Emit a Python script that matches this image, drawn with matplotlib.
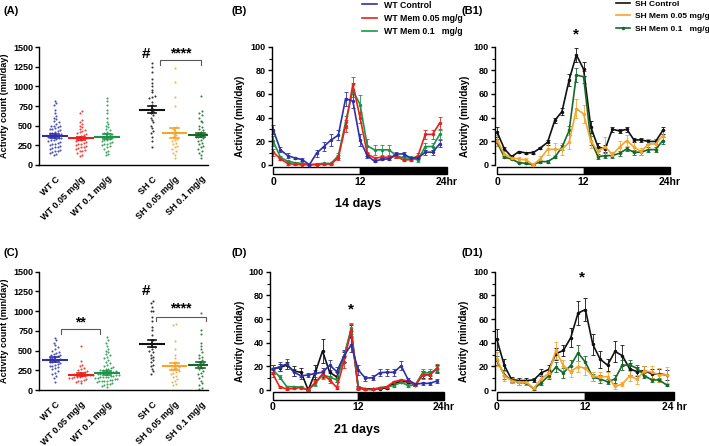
import numpy as np
import matplotlib
matplotlib.use('Agg')
import matplotlib.pyplot as plt
import matplotlib.transforms as mtransforms
from matplotlib.patches import Rectangle
from matplotlib.lines import Line2D

plt.rcParams['font.family'] = ['Liberation Sans', 'DejaVu Sans']
plt.rcParams['font.weight'] = 'bold'
plt.rcParams['axes.labelweight'] = 'bold'

# ---------------- data ----------------
groups = ['WT C', 'WT 0.05 mg/g', 'WT 0.1 mg/g', 'SH C', 'SH 0.05 mg/g', 'SH 0.1 mg/g']

# panel A : 14 days, activity count per animal
a_wt_c = [820, 790, 760, 700, 660, 620, 600, 580, 560, 540, 520, 500, 500, 490, 480, 470, 460, 450, 440,
          430, 420, 410, 400, 390, 380, 380, 370, 360, 350, 345, 340, 330, 320, 310, 300, 290, 280, 270,
          260, 250, 240, 230, 220, 210, 200, 190, 180, 170, 160, 150, 140, 130]
a_wt_005 = [680, 660, 570, 550, 520, 500, 480, 460, 440, 430, 420, 400, 390, 380, 370, 360, 350, 340, 330,
            320, 310, 300, 290, 280, 270, 260, 250, 240, 230, 220, 210, 200, 190, 180, 170, 150, 130, 110]
a_wt_01 = [850, 810, 760, 700, 660, 600, 550, 520, 500, 480, 460, 440, 420, 400, 390, 380, 370, 360, 350,
           340, 330, 320, 310, 300, 290, 280, 270, 260, 250, 240, 220, 200, 180, 160, 140, 120]
a_sh_c = [1300, 1250, 1180, 1100, 1050, 1000, 960, 930, 880, 870, 850, 800, 760, 720, 690, 660, 630, 600,
          570, 540, 500, 470, 430, 400, 350, 300, 230]
a_sh_005 = [1230, 1060, 860, 750, 480, 450, 420, 400, 380, 350, 330, 310, 300, 280, 260, 240, 220, 200,
            180, 150, 120, 90]
a_sh_01 = [880, 690, 660, 640, 600, 560, 540, 500, 480, 460, 440, 420, 400, 390, 380, 370, 360, 350, 340,
           320, 300, 280, 260, 240, 220, 200, 180, 150, 120, 90]
a_mean = [365, 335, 360, 700, 405, 380]
a_sem = [30, 25, 30, 45, 65, 30]

# panel C : 21 days
c_wt_c = [660, 640, 600, 570, 540, 520, 500, 480, 470, 460, 450, 440, 430, 420, 410, 400, 390, 380, 370,
          360, 350, 340, 330, 320, 310, 300, 290, 280, 260, 240, 220, 200, 180, 150, 100]
c_wt_005 = [560, 370, 320, 300, 280, 260, 250, 240, 230, 220, 210, 205, 200, 195, 190, 185, 180, 175, 170,
            165, 160, 155, 150, 140, 130, 120, 110, 100, 90]
c_wt_01 = [670, 640, 600, 560, 520, 500, 480, 460, 440, 420, 400, 380, 360, 340, 320, 300, 290, 280, 270,
           260, 250, 240, 230, 220, 210, 200, 190, 180, 170, 160, 150, 140, 130, 120, 110, 100, 90, 80, 70,
           60, 50, 40, 250, 230, 210, 190, 170, 150, 130, 110, 200, 180, 160, 140, 120]
c_sh_c = [1130, 1100, 1050, 1000, 1000, 920, 880, 800, 760, 700, 640, 600, 560, 540, 520, 500, 480, 450,
          420, 400, 380, 350, 320, 300, 270, 240, 200]
c_sh_005 = [840, 820, 620, 520, 450, 400, 360, 340, 320, 300, 290, 280, 270, 260, 240, 230, 220, 200, 180,
            160, 140, 120, 100, 80, 60]
c_sh_01 = [980, 760, 710, 600, 560, 520, 480, 450, 420, 400, 380, 360, 340, 320, 300, 280, 260, 240, 220,
           200, 180, 150, 120, 90, 60, 30, 10]
c_mean = [385, 195, 215, 585, 300, 315]
c_sem = [30, 15, 20, 45, 45, 40]

hours = np.arange(24)

# panel B : WT, 14 days
b_ctrl = [29.7, 12.6, 7.7, 5.7, 4.3, 0, 9.7, 15.4, 21, 25, 56, 54, 20.6, 7.7, 2.9, 4.6, 4.9, 9.1, 9.1, 5.7,
          5.7, 10.6, 10.6, 17.7]
b_ctrl_e = [4, 2, 2, 1, 1, 0, 3, 4, 5, 4, 6, 6, 5, 2, 1, 1, 1, 2, 2, 1, 1, 2, 2, 3]
b_005 = [10.6, 5, 1, 0.3, 0, 0, 0, 0.5, 0.5, 6, 33, 68, 40, 9, 5.7, 6.3, 6.3, 7, 4, 4.3, 7.7, 25.7, 25.7, 35.4]
b_005_e = [3, 1, 1, 0.5, 0.5, 0, 0, 0.5, 0.5, 2, 5, 6, 5, 2, 1, 1, 1, 1, 1, 1, 2, 4, 4, 5]
b_01 = [20, 6.3, 2.9, 1.7, 1.1, 0, 0.6, 1.1, 1.1, 7.7, 36, 63, 51, 16, 12.6, 12.6, 12.6, 7.7, 5.7, 5.7,
        4, 15.4, 15.4, 25.7]
b_01_e = [4, 1, 1, 0.5, 0.5, 0, 0.5, 0.5, 0.5, 2, 5, 6, 8, 6, 4, 4, 4, 2, 2, 2, 2, 3, 3, 4]

# panel B1 : SH, 14 days
b1_ctrl = [27.6, 13.4, 6.8, 11, 10, 10.2, 14.2, 19, 37.5, 45, 72, 93, 81, 32, 15, 13.4, 30, 28.6, 30, 21,
           21, 19.7, 19.7, 29]
b1_ctrl_e = [4, 2, 1, 1, 1, 1, 1, 2, 2, 3, 5, 6, 6, 5, 3, 3, 2, 2, 2, 2, 2, 2, 2, 3]
b1_005 = [20.5, 9, 5.7, 4.8, 4, 0, 5, 13, 13, 13, 19, 47.5, 43, 20, 11.4, 15.3, 8.5, 15, 20.5, 15, 11,
          17.6, 17.6, 24.7]
b1_005_e = [5, 3, 2, 2, 2, 0.5, 2, 5, 5, 5, 6, 8, 8, 6, 4, 8, 2, 5, 5, 5, 3, 4, 4, 5]
b1_01 = [19, 6.3, 4.8, 1.7, 1.1, 0, 2.6, 2.6, 6.3, 14.8, 29, 76, 74.5, 20.5, 6.8, 7.7, 7.7, 9.7, 13.4,
         10.6, 10.6, 12.8, 12.8, 20.5]
b1_01_e = [3, 1, 1, 0.5, 0.5, 0, 1, 1, 1, 2, 4, 6, 5, 4, 2, 2, 2, 2, 2, 2, 2, 2, 2, 3]

# panel D : WT, 21 days
d_ctrl = [17.5, 19.7, 22, 15, 12, 12.7, 14, 15, 21, 15.5, 29, 38, 17, 10, 10.4, 14.6, 15, 15, 20.5, 8.5,
          5, 5.6, 5.6, 7.6]
d_ctrl_e = [4, 4, 4, 3, 3, 2, 3, 4, 4, 4, 5, 6, 4, 2, 2, 3, 3, 3, 4, 2, 1, 1, 1, 2]
d_extra = [18, 19, 21, 16, 15, 0, 15, 33, 15, 11, 28, 50, 2, 1, 1, 1, 2, 6, 7, 7, 4, 13, 13, 18]
d_extra_e = [3, 3, 3, 4, 4, 1, 6, 10, 5, 4, 4, 5, 1, 0.5, 0.5, 0.5, 1, 1, 1, 1, 1, 3, 3, 3]
d_005 = [14, 2.8, 0.8, 1.4, 2, 0, 6.5, 13.5, 8.5, 2, 24, 51, 1.4, 0.5, 0.5, 1.4, 2.8, 7, 8.5, 7.6, 4.2,
         12.7, 12.7, 18.3]
d_005_e = [3, 1, 0.5, 0.5, 1, 0, 2, 3, 3, 1, 5, 5, 1, 0.5, 0.5, 0.5, 1, 1, 1, 1, 1, 3, 3, 4]
d_01 = [17.5, 11, 2.8, 2.8, 2.3, 0, 5.6, 12.7, 11, 8.5, 28, 52, 2, 0.5, 0.5, 2, 2.8, 3.7, 6.5, 3.7, 4.2,
        14.6, 14.6, 17]
d_01_e = [4, 2, 1, 1, 1, 0, 2, 3, 3, 2, 5, 5, 1, 0.5, 0.5, 0.5, 1, 1, 1, 1, 1, 3, 3, 3]

# panel D1 : SH, 21 days
d1_ctrl = [42.8, 21, 8.8, 8, 8, 8.5, 14.5, 17.3, 30.6, 33.4, 44, 65, 68, 38.5, 26, 21, 32.6, 29, 17.8,
           15.6, 16.4, 13.6, 13.6, 12.7]
d1_ctrl_e = [9, 5, 2, 2, 2, 2, 3, 4, 5, 5, 8, 10, 10, 9, 7, 5, 9, 9, 5, 4, 4, 4, 4, 4]
d1_005 = [26, 12, 8, 6.5, 6.5, 1.4, 9.3, 14, 33.4, 20.7, 15.6, 19.8, 18.4, 11.6, 11.3, 11.3, 3, 5, 12, 9,
          16.4, 15, 13, 12.7]
d1_005_e = [6, 4, 2, 2, 2, 1, 3, 4, 7, 5, 5, 5, 6, 4, 4, 4, 2, 2, 4, 4, 4, 5, 6, 7]
d1_01 = [25, 13, 8, 6.5, 6, 1, 6, 12, 19.3, 14.5, 20.7, 31.4, 23.5, 10.8, 9.3, 7, 9.3, 21, 21, 18.4, 12,
         8.5, 8.5, 4.2]
d1_01_e = [4, 4, 2, 2, 2, 1, 2, 3, 4, 4, 5, 7, 5, 3, 3, 2, 3, 4, 4, 3, 2, 2, 2, 1]

# ---------------- style ----------------
BLUE = '#2e31a6'
RED = '#e8211d'
GREEN = '#1e9448'
BLACK = '#111111'
ORANGE = '#f7a42a'
DKGREEN = '#17692b'
dot_colors = [BLUE, RED, GREEN, BLACK, ORANGE, DKGREEN]
pos = [0, 1, 2, 3.73, 4.6, 5.6]

W, H = 709, 446
fig = plt.figure(figsize=(W / 100, H / 100), dpi=100)


def px_axes(l, t, r, b):
    return fig.add_axes([l / W, 1 - b / H, (r - l) / W, (b - t) / H])


def swarm(vals, center, binw=50, step=0.1):
    vals = np.sort(np.asarray(vals, float))
    xs = np.zeros_like(vals)
    bins = np.floor(vals / binw)
    for b in np.unique(bins):
        idx = np.where(bins == b)[0]
        n = len(idx)
        xs[idx] = center + (np.arange(n) - (n - 1) / 2) * step
    return xs, vals


def dot_panel(ax, data, means, sems):
    for i, vals in enumerate(data):
        c = dot_colors[i]
        xs, ys = swarm(vals, pos[i])
        ax.plot(xs, ys, 'o', ms=1.5, color=c, mec='none', alpha=0.85, clip_on=False)
        m, s = means[i], sems[i]
        ax.plot([pos[i] - 0.45, pos[i] + 0.45], [m, m], color=c, lw=1.5)
        ax.plot([pos[i] - 0.17, pos[i] + 0.17], [m + s, m + s], color=c, lw=1.2)
        ax.plot([pos[i] - 0.17, pos[i] + 0.17], [m - s, m - s], color=c, lw=1.2)
        ax.plot([pos[i], pos[i]], [m - s, m + s], color=c, lw=1.2)
    ax.set_xlim(-0.6, 5.88)
    ax.set_ylim(0, 1500)
    ax.set_yticks(np.arange(0, 1501, 250))
    ax.tick_params(axis='y', labelsize=6.5, length=3, width=1, pad=1.5)
    ax.set_xticks(pos)
    ax.set_xticklabels(groups, rotation=45, ha='right', va='top', rotation_mode='anchor', fontsize=6.5)
    ax.tick_params(axis='x', length=0, pad=7)
    for sp in ['top', 'right']:
        ax.spines[sp].set_visible(False)
    for sp in ['left', 'bottom']:
        ax.spines[sp].set_linewidth(1.0)
    ax.set_ylabel('Activity count (min/day)', fontsize=6.6)
    ax.yaxis.set_label_coords(-0.178, 0.5)


def bracket(ax, x1, x2, y, h, label, ty):
    ax.plot([x1, x1, x2, x2], [y - h, y, y, y - h], color='0.35', lw=0.8, clip_on=False)
    ax.text((x1 + x2) / 2, ty, label, ha='center', va='center', fontsize=10, clip_on=False)


def line_panel(ax, series, xmin, tick24):
    for vals, err, c in series:
        eb = ax.errorbar(hours, vals, yerr=err, color=c, lw=1.2, elinewidth=0.6, capsize=1.5,
                         capthick=0.6, marker='o', ms=1.5)
        for art in eb.get_children():
            art.set_clip_on(False)
    ax.set_xlim(xmin, 24)
    ax.set_ylim(0, 100)
    ax.set_yticks(np.arange(0, 101, 20))
    ax.set_yticks(np.arange(10, 100, 20), minor=True)
    ax.tick_params(axis='y', which='major', labelsize=6.5, length=3, width=1, pad=1.5)
    ax.tick_params(axis='y', which='minor', length=2, width=0.8)
    ax.set_xticks([0, 12, 24])
    ax.set_xticklabels(['0', '12', tick24], fontsize=7.5)
    ax.tick_params(axis='x', length=0, pad=9)
    for sp in ['top', 'right', 'bottom']:
        ax.spines[sp].set_visible(False)
    ax.spines['left'].set_linewidth(1.0)
    trans = mtransforms.blended_transform_factory(ax.transData, ax.transAxes)
    ax.add_patch(Rectangle((0, -0.082), 12, 0.062, transform=trans, facecolor='white',
                           edgecolor='black', lw=1, clip_on=False))
    ax.add_patch(Rectangle((12, -0.082), 12, 0.062, transform=trans, facecolor='black',
                           edgecolor='black', lw=1, clip_on=False))
    ax.set_ylabel('Activity (min/day)', fontsize=7)


# ---------------- panels ----------------
axA = px_axes(39.3, 47.3, 208, 164.7)
dot_panel(axA, [a_wt_c, a_wt_005, a_wt_01, a_sh_c, a_sh_005, a_sh_01], a_mean, a_sem)
axA.text(pos[3] - 0.25, 1410, '#', ha='center', va='center', fontsize=11)
bracket(axA, pos[4] - 0.55, pos[5], 1335, 60, '****', 1420)

axC = px_axes(39.3, 271.7, 208, 390)
dot_panel(axC, [c_wt_c, c_wt_005, c_wt_01, c_sh_c, c_sh_005, c_sh_01], c_mean, c_sem)
axC.text(pos[3] - 0.25, 1255, '#', ha='center', va='center', fontsize=11)
bracket(axC, pos[0] + 0.22, pos[2] - 0.25, 770, 60, '**', 860)
bracket(axC, pos[4] - 0.7, pos[5] + 0.2, 930, 60, '****', 1035)

axB = px_axes(271.7, 46.7, 447, 164.7)
line_panel(axB, [(b_01, b_01_e, GREEN), (b_005, b_005_e, RED), (b_ctrl, b_ctrl_e, BLUE)], -0.2, '24hr')
axB.yaxis.set_label_coords(-0.152, 0.41)

axB1 = px_axes(495, 46.7, 670, 164.7)
line_panel(axB1, [(b1_ctrl, b1_ctrl_e, BLACK), (b1_01, b1_01_e, DKGREEN), (b1_005, b1_005_e, ORANGE)],
           -0.3, '24hr')
axB1.yaxis.set_label_coords(-0.145, 0.41)
axB1.text(11, 110, '*', ha='center', va='center', fontsize=11, clip_on=False)

axD = px_axes(270, 271.7, 444, 390)
line_panel(axD, [(d_extra, d_extra_e, BLACK), (d_01, d_01_e, GREEN), (d_005, d_005_e, RED),
                 (d_ctrl, d_ctrl_e, BLUE)], -0.35, '24hr')
axD.yaxis.set_label_coords(-0.145, 0.41)
axD.text(11, 68, '*', ha='center', va='center', fontsize=11)

axD1 = px_axes(495, 271.7, 674, 390)
line_panel(axD1, [(d1_ctrl, d1_ctrl_e, BLACK), (d1_01, d1_01_e, DKGREEN), (d1_005, d1_005_e, ORANGE)],
           -0.25, '24 hr')
axD1.yaxis.set_label_coords(-0.145, 0.41)
axD1.text(11.5, 95, '*', ha='center', va='center', fontsize=11)

# legends
hB = [Line2D([], [], color=BLUE, lw=1.2), Line2D([], [], color=RED, lw=1.2),
      Line2D([], [], color=GREEN, lw=1.2)]
axB.legend(hB, ['WT Control', 'WT Mem 0.05 mg/g', 'WT Mem 0.1   mg/g'], loc='upper left',
           bbox_to_anchor=(361.7 / W, 1 - 0.5 / H), bbox_transform=fig.transFigure, frameon=False,
           fontsize=6.3, handlelength=1.7, handletextpad=0.8, labelspacing=0.5, borderpad=0,
           borderaxespad=0)
hB1 = [Line2D([], [], color=BLACK, lw=1.2), Line2D([], [], color=ORANGE, lw=1.2),
       Line2D([], [], color=DKGREEN, lw=1.2, marker='o', ms=1.5)]
axB1.legend(hB1, ['SH Control', 'SH Mem 0.05 mg/g', 'SH Mem 0.1   mg/g'], loc='upper left',
            bbox_to_anchor=(615.7 / W, 1 - 0 / H), bbox_transform=fig.transFigure, frameon=False,
            fontsize=6.0, handlelength=1.7, handletextpad=0.6, labelspacing=0.55, borderpad=0,
            borderaxespad=0)

# panel labels and captions
for lab, x, y in [('(A)', 3, 11), ('(B)', 232, 11), ('(B1)', 462, 11),
                  ('(C)', 3, 253), ('(D)', 232, 253), ('(D1)', 462, 253)]:
    fig.text(x / W, 1 - y / H, lab, ha='left', va='center', fontsize=8)
fig.text(358 / W, 1 - 204 / H, '14 days', ha='center', va='center', fontsize=9)
fig.text(357 / W, 1 - 430 / H, '21 days', ha='center', va='center', fontsize=9)

fig.savefig('out.png', dpi=100)
